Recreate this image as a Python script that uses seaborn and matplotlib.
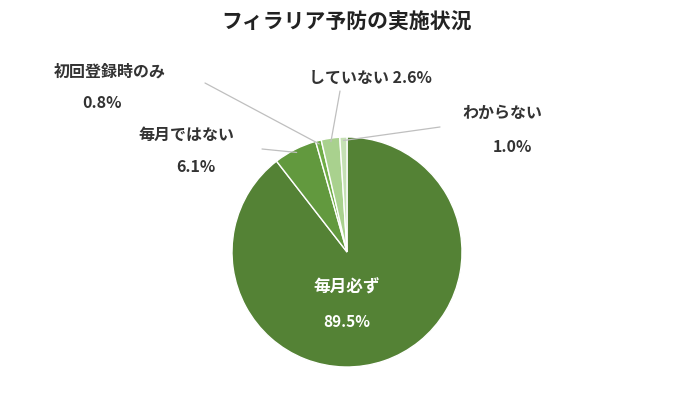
import numpy as np
import matplotlib
matplotlib.use("Agg")
import matplotlib.pyplot as plt
import seaborn as sns

sns.set_theme(style="white")
plt.rcParams["font.family"] = "Noto Sans CJK JP"

categories = ["毎月必ず", "毎月ではない", "初回登録時のみ", "していない", "わからない"]
values = [89.5, 6.1, 0.8, 2.6, 1.0]
colors = ["#548235", "#62993e", "#70ad47", "#a9d18e", "#c5e0b4"]

W, H = 696, 410
fig = plt.figure(figsize=(W / 100, H / 100), dpi=100)
cx, cy, r = 347, 253, 115
ax = fig.add_axes([(cx - r) / W, (H - cy - r) / H, 2 * r / W, 2 * r / H])
wedges, _ = ax.pie(values, colors=colors, startangle=90, counterclock=False,
                   wedgeprops=dict(edgecolor="white", linewidth=1))
ax.set_xlim(-1, 1); ax.set_ylim(-1, 1); ax.set_aspect("auto")

fig.text(cx / W, 1 - 22 / H, "フィラリア予防の実施状況", ha="center", va="center",
         fontsize=15, fontweight="bold", color="#222222")

def px(x, y):
    return x / W, 1 - y / H

# inside label
fig.text(*px(cx, 288), categories[0], ha="center", va="center", color="white", fontsize=12, fontweight="bold")
fig.text(*px(cx, 322), f"{values[0]}%", ha="center", va="center", color="white", fontsize=11, fontweight="bold")

outside = {
    1: [((186, 135), categories[1]), ((196, 167), f"{values[1]}%")],
    2: [((110, 72), categories[2]), ((102, 103), f"{values[2]}%")],
    3: [((370, 78), f"{categories[3]} {values[3]}%")],
    4: [((502, 113), categories[4]), ((512, 147), f"{values[4]}%")],
}
for i, items in outside.items():
    for (x, y), t in items:
        fig.text(*px(x, y), t, ha="center", va="center", fontsize=11.5,
                 fontweight="bold", color="#333333")

line_starts = {1: (262, 150), 2: (205, 84), 3: (340, 92), 4: (440, 128)}
for i, (sx, sy) in line_starts.items():
    w = wedges[i]
    ang = np.deg2rad((w.theta1 + w.theta2) / 2)
    ex, ey = cx + r * 0.97 * np.cos(ang), cy - r * 0.97 * np.sin(ang)
    fig.add_artist(plt.Line2D([sx / W, ex / W], [1 - sy / H, 1 - ey / H],
                              color="#bfbfbf", lw=0.9, transform=fig.transFigure))

fig.savefig("out.png", dpi=100, facecolor="white")
